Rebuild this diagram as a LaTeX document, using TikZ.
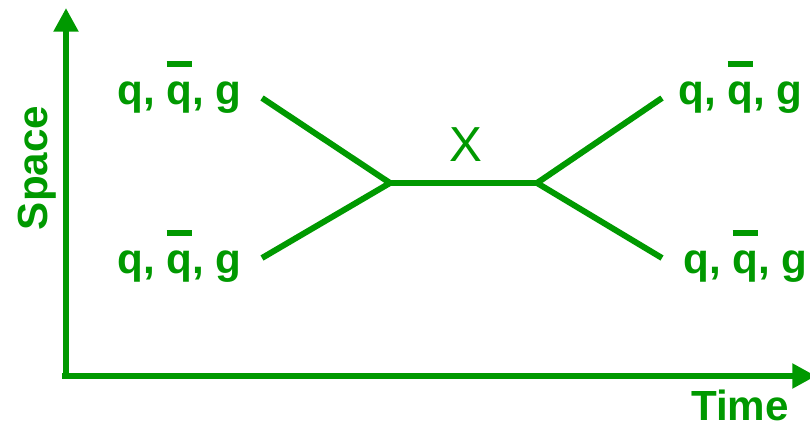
\documentclass[tikz,border=0pt]{standalone}
\usepackage{fontspec}
\setmainfont{Liberation Sans}
\usetikzlibrary{arrows.meta, positioning}
\usepackage{xcolor}
\definecolor{plgreen}{HTML}{009900}
\newcommand{\qbar}{\setbox0\hbox{q}\rlap{\raisebox{21.5pt}{\rule{\wd0}{3.4pt}}}q}

\begin{document}
\begin{tikzpicture}[
    x=0.02cm, y=-0.02cm,
    axis/.style={draw=plgreen, line width=3.4pt, -{Triangle[length=13.5pt, width=13.5pt]}},
    leg/.style={draw=plgreen, line width=3.4pt},
    label/.style={inner sep=0pt, text=plgreen, font=\fontsize{24}{28}\selectfont\bfseries},
    state/.style={inner sep=0pt, text=plgreen, font=\fontsize{28}{32}\selectfont}
  ]
  \useasboundingbox (0,0) rectangle (810,428);

  % axes
  \coordinate (origin) at (66,379);
  \coordinate (spacetip) at (66,8);
  \coordinate (origin0) at (62,376);
  \coordinate (timetip) at (816,376);
  \draw[axis] (origin0) -- (timetip);
  \draw[axis] (origin) -- (spacetip);
  \node[label, rotate=90, anchor=base] (space) at (47,168) {Space};
  \node[label, anchor=base] (time) at (740,420) {Time};

  % incoming and outgoing partons
  \node[label, anchor=base west] (inup) at (117,105) {q, \qbar, g};
  \node[label, anchor=base west] (indown) at (117,274) {q, \qbar, g};
  \node[label, anchor=base west] (outup) at (678,105) {q, \qbar, g};
  \node[label, anchor=base west] (outdown) at (683,274) {q, \qbar, g};

  \coordinate (a1) at (262,98);
  \coordinate (a2) at (262,258);
  \coordinate (v1) at (390,183);
  \coordinate (v2) at (537,183);
  \coordinate (b1) at (662,98);
  \coordinate (b2) at (662,258);

  \draw[leg] (a1) -- (v1);
  \draw[leg] (a2) -- (v1);
  \draw[leg] (v1) -- (v2);
  \draw[leg] (v2) -- (b1);
  \draw[leg] (v2) -- (b2);
  \node[state] (x) at (466,145) {X};
\end{tikzpicture}
\end{document}
